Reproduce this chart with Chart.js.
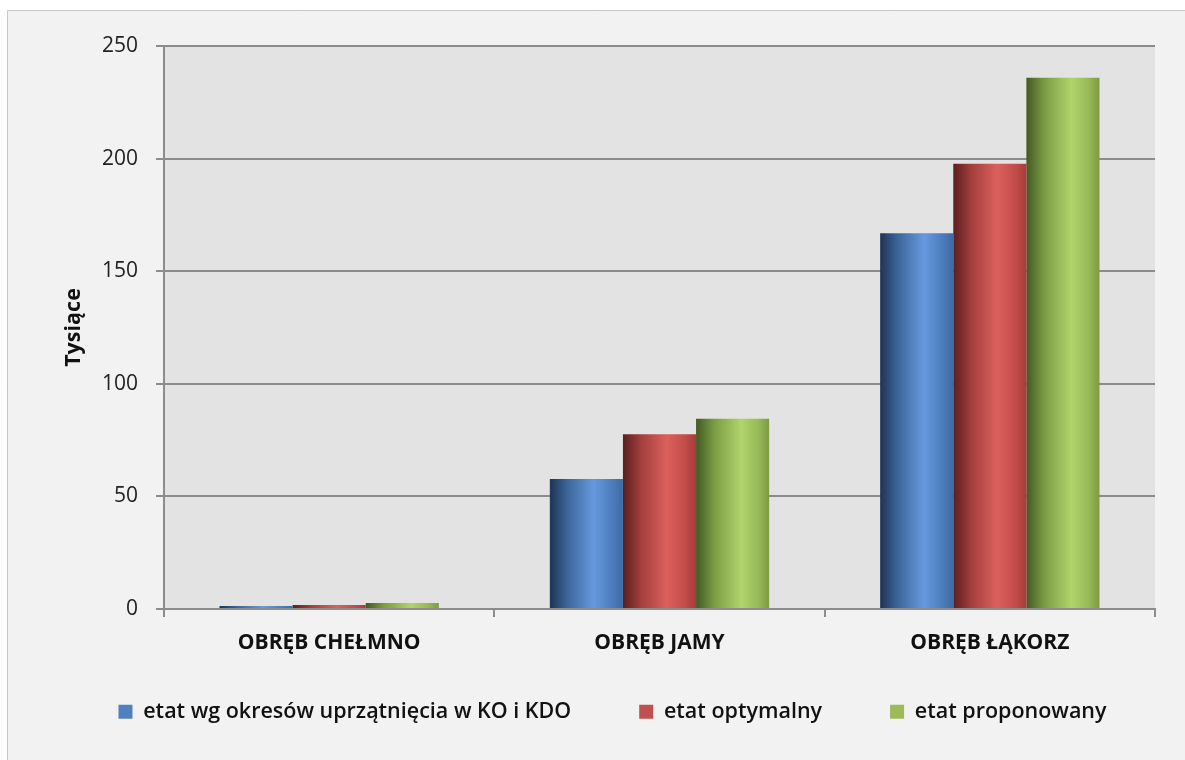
<!DOCTYPE html>
<html><head><meta charset="utf-8">
<script src="https://cdn.jsdelivr.net/npm/chart.js@4.4.1/dist/chart.umd.min.js"></script>
<style>html,body{margin:0;padding:0;background:#fff;}#wrap{position:absolute;left:0;top:0;width:1185px;height:760px;}</style>
</head><body><div id="wrap"><canvas id="c" width="1185" height="760"></canvas></div>
<script>
const categories = ['OBRĘB CHEŁMNO', 'OBRĘB JAMY', 'OBRĘB ŁĄKORZ'];
const seriesNames = ['etat wg okresów uprzątnięcia w KO i KDO', 'etat optymalny', 'etat proponowany'];
const etatOkresy = [1.3, 57.7, 166.8];
const etatOptymalny = [1.8, 77.6, 197.7];
const etatProponowany = [2.7, 84.5, 235.9];
const yTicks = [0, 50, 100, 150, 200, 250];
const yTitle = 'Tysiące';

const baseColors = ['#4f81bd', '#c0504d', '#9bbb59'];
const gradStops = [
  [[0,'#1d3557'],[0.25,'#3d679c'],[0.6,'#6699dd'],[0.85,'#4c7dbd'],[1,'#3f6aa2']],
  [[0,'#5a1f1f'],[0.25,'#a33f3d'],[0.6,'#dc605d'],[0.85,'#c24c4a'],[1,'#a63c3a']],
  [[0,'#435a22'],[0.25,'#7c9c44'],[0.62,'#b1d46c'],[0.85,'#98b957'],[1,'#7d9a45']]
];
const CAT_PCT = 0.664;

function barFill(ctx, di) {
  const chart = ctx.chart;
  const xs = chart.scales && chart.scales.x;
  if (ctx.type !== 'data' || !xs || !chart.chartArea) return baseColors[di];
  const catW = (xs.right - xs.left) / categories.length;
  const groupW = catW * CAT_PCT;
  const barW = groupW / 3;
  const left = xs.getPixelForValue(ctx.dataIndex) - groupW / 2 + di * barW;
  const g = chart.ctx.createLinearGradient(left, 0, left + barW, 0);
  gradStops[di].forEach(s => g.addColorStop(s[0], s[1]));
  return g;
}

const bgPlugin = {
  id: 'bg',
  afterLayout(chart) {
    const L = chart.legend;
    if (L) { L.top -= 38; L.left += 35; L.right += 35; }
  },
  beforeDraw(chart) {
    const c = chart.ctx, a = chart.chartArea;
    c.save();
    c.fillStyle = '#ffffff';
    c.fillRect(0, 0, chart.width, chart.height);
    c.fillStyle = '#f2f2f2';
    c.fillRect(7, 10, chart.width - 7, chart.height - 10);
    c.strokeStyle = '#c8c8c8';
    c.lineWidth = 1;
    c.beginPath();
    c.moveTo(7.5, chart.height); c.lineTo(7.5, 10.5); c.lineTo(chart.width, 10.5);
    c.stroke();
    c.fillStyle = '#e3e3e3';
    c.fillRect(a.left, a.top, a.right - a.left, a.bottom - a.top);
    c.restore();
  }
};

const FONT = "'Open Sans', 'Noto Sans', sans-serif";
const series = [etatOkresy, etatOptymalny, etatProponowany];

new Chart(document.getElementById('c'), {
  type: 'bar',
  data: {
    labels: categories,
    datasets: seriesNames.map((n, i) => ({
      label: n,
      data: series[i],
      backgroundColor: (ctx) => barFill(ctx, i),
      borderWidth: 0,
      categoryPercentage: CAT_PCT,
      barPercentage: 1.0
    }))
  },
  options: {
    responsive: false,
    animation: false,
    layout: { padding: { top: 46, right: 30, left: 0, bottom: 9 } },
    plugins: {
      tooltip: { enabled: false },
      legend: {
        position: 'bottom',
        maxHeight: 80,
        labels: {
          boxWidth: 14, boxHeight: 14, padding: 68,
          color: '#111',
          font: { family: FONT, size: 21.5, weight: '600' },
          generateLabels(chart) {
            const items = Chart.defaults.plugins.legend.labels.generateLabels(chart);
            items.forEach((it, i) => { it.fillStyle = baseColors[i]; it.strokeStyle = baseColors[i]; it.lineWidth = 0; });
            return items;
          }
        }
      }
    },
    scales: {
      x: {
        grid: { drawOnChartArea: false, offset: true, tickLength: 8, color: '#8c8c8c', lineWidth: 2 },
        border: { color: '#8c8c8c', width: 2 },
        ticks: { color: '#111', padding: 13, font: { family: FONT, size: 21, weight: 'bold' } },
        afterFit(s) { s.height = 62; }
      },
      y: {
        min: 0, max: 250,
        afterBuildTicks(s) { s.ticks = yTicks.map(v => ({ value: v })); },
        grid: { color: '#8c8c8c', lineWidth: 2, tickLength: 8 },
        border: { color: '#8c8c8c', width: 2 },
        ticks: { color: '#222', padding: 18, font: { family: FONT, size: 21 } },
        title: { display: true, text: yTitle, color: '#111', padding: { top: 61, bottom: 0 }, font: { family: FONT, size: 21.5, weight: 'bold' } },
        afterFit(s) { s.width = 164; }
      }
    }
  },
  plugins: [bgPlugin]
});
</script>
</body></html>
